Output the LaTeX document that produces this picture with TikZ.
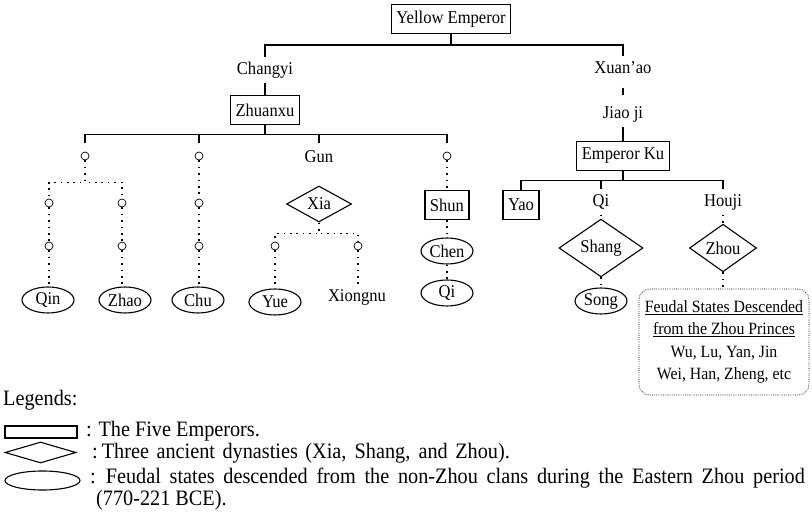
\documentclass[tikz,border=0pt]{standalone}
\usepackage{fontspec}
\setmainfont[FakeStretch=0.92]{Liberation Serif}
\usetikzlibrary{shapes.geometric}

\begin{document}
\begin{tikzpicture}[x=1pt,y=-1pt]
\tikzset{every node/.style={font=\fontsize{18}{21}\selectfont}}
\tikzset{emp/.style = {shape=rectangle,draw,line width=1.1pt,minimum height=29pt,inner xsep=5pt}}
\tikzset{dyn/.style = {shape=diamond,draw,line width=1.1pt,inner sep=0pt}}
\tikzset{state/.style = {shape=ellipse,draw,line width=1.1pt,inner sep=0pt,minimum width=52pt,minimum height=26pt}}
\tikzset{lbl/.style = {inner xsep=2pt,inner ysep=4.5pt,text height=12.5pt,text depth=3.5pt}}
\tikzset{gen/.style = {shape=circle,draw,line width=0.7pt,minimum size=8pt,inner sep=0pt}}
\tikzset{fief/.style = {draw,rounded corners=11pt,line width=0.8pt,dash pattern=on 0.8pt off 1.4pt,
	align=center,minimum width=170pt,minimum height=106pt,font=\fontsize{17.2}{22.3}\selectfont}}
\tikzset{kin/.style = {line width=1.1pt}}
\tikzset{dots/.style = {line width=1.6pt,dash pattern=on 1.6pt off 4.8pt}}
\tikzset{legtext/.style = {anchor=west,inner sep=0pt,font=\fontsize{22}{25}\selectfont}}
\useasboundingbox (0,0) rectangle (812,518);

% vertices
\node[emp] (ye) at (451,19) {Yellow Emperor};
\node[lbl] (changyi) at (265,70) {Changyi};
\node[lbl] (xuanao) at (623,69) {Xuan'ao};
\node[emp] (zhuanxu) at (265,110) {Zhuanxu};
\node[lbl] (jiaoji) at (623,114) {Jiao ji};
\node[emp] (ku) at (623,156) {Emperor Ku};

\node[gen] (oa) at (85,156) {};
\node[gen] (og) at (199,156) {};
\node[lbl] (gun) at (319,158) {Gun};
\node[gen] (os) at (447,156) {};
\node[gen] (ob) at (49,203) {};
\node[gen] (oc) at (122,203) {};
\node[gen] (oh) at (199,203) {};
\node[dyn,minimum width=65pt,minimum height=35pt] (xia) at (319,204) {Xia};
\node[gen] (od) at (49,246) {};
\node[gen] (oe) at (122,246) {};
\node[gen] (oi) at (199,246) {};
\node[gen] (oy) at (275,246) {};
\node[gen] (ox) at (358,246) {};
\node[state] (qin) at (48,300) {Qin};
\node[state] (zhao) at (125,300) {Zhao};
\node[state] (chu) at (198,300) {Chu};
\node[state] (yue) at (275,302) {Yue};
\node[lbl] (xiongnu) at (357,297) {Xiongnu};

\node[emp] (shun) at (447,205) {Shun};
\node[state] (chen) at (447,251) {Chen};
\node[state] (qia) at (447,293) {Qi};
\node[emp] (yao) at (521,205) {Yao};
\node[lbl] (qib) at (601,202) {Qi};
\node[dyn,minimum width=84pt,minimum height=37pt] (shang) at (601,248) {Shang};
\node[state] (song) at (601,301) {Song};
\node[lbl] (houji) at (723,202) {Houji};
\node[dyn,minimum width=67pt,minimum height=33pt] (zhou) at (723,248) {Zhou};
\node[fief] (princes) at (724,342) {\underline{Feudal States Descended}\\\underline{from the Zhou Princes}\\Wu, Lu, Yan, Jin\\Wei, Han, Zheng, etc};

%edges
\draw[kin] (ye.south) -- ++(0,11) -| (changyi.north);
\draw[kin] (ye.south) -- ++(0,11) -| (xuanao.north);
\draw[kin] (changyi) -- (zhuanxu);
\draw[kin,shorten <=6pt,shorten >=6pt] (xuanao) -- (jiaoji);
\draw[kin] (jiaoji) -- (ku);
\draw[kin] (zhuanxu.south) -- ++(0,9.5) -| ([yshift=9pt]oa.north);
\draw[kin] (zhuanxu.south) -- ++(0,9.5) -| ([yshift=9pt]og.north);
\draw[kin] (zhuanxu.south) -- ++(0,9.5) -| ([yshift=2.5pt]gun.north);
\draw[kin] (zhuanxu.south) -- ++(0,9.5) -| ([yshift=9pt]os.north);
\draw[kin] (ku.south) -- ++(0,9.5) -| (yao.north);
\draw[kin] (ku.south) -- ++(0,9.5) -| (qib.north);
\draw[kin] (ku.south) -- ++(0,9.5) -| (houji.north);

\draw[dots] (oa.south) -- ++(0,22) -| (ob.north);
\draw[dots] (oa.south) -- ++(0,22) -| (oc.north);
\draw[dots] (ob) -- (od);
\draw[dots] (oc) -- (oe);
\draw[dots] (od.south) -- (od.south |- qin.north);
\draw[dots] (oe.south) -- (oe.south |- zhao.north);
\draw[dots] (og) -- (oh);
\draw[dots] (oh) -- (oi);
\draw[dots] (oi.south) -- (oi.south |- chu.north);
\draw[dots] (xia.south) -- ++(0,11) -| (oy.north);
\draw[dots] (xia.south) -- ++(0,11) -| (ox.north);
\draw[dots] (oy.south) -- (oy.south |- yue.north);
\draw[dots] (ox.south) -- (ox.south |- xiongnu.north);
\draw[dots] (os) -- (shun);
\draw[dots] (shun) -- (chen);
\draw[dots] (chen) -- (qia);
\draw[dots] (qib) -- (shang);
\draw[dots] (shang) -- (song);
\draw[dots] (houji) -- (zhou);
\draw[dots] (zhou.south) -- (zhou.south |- princes.north);

% legend
\node[legtext] (legends) at (3,400) {Legends:};
\node[emp,minimum width=72pt,minimum height=12pt,inner sep=0pt] (legemp) at (41,432) {};
\node[legtext] (legfive) at (86,431) {: The Five Emperors.};
\node[dyn,minimum width=71pt,minimum height=21pt] (legdyn) at (40.5,452.5) {};
\node[legtext] (legthree) at (92,453) {:\hspace{4pt}\makebox[408pt][s]{Three ancient dynasties (Xia, Shang, and Zhou).}};
\node[state,minimum width=75pt,minimum height=19pt] (legstate) at (42.5,480.5) {};
\node[legtext] (legfeudal) at (90,478) {:\hspace{10pt}\makebox[699pt][s]{Feudal states descended from the non-Zhou clans during the Eastern Zhou period}};
\node[legtext] (legyear) at (96,500) {(770-221 BCE).};
\end{tikzpicture}
\end{document}
